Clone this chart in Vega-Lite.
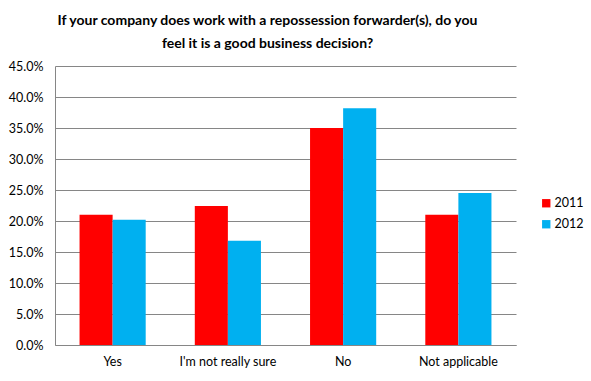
{
  "$schema": "https://vega.github.io/schema/vega-lite/v6.json",
  "width": 461,
  "height": 279,
  "autosize": {"type": "none"},
  "padding": {"left": 55, "top": 66, "right": 75, "bottom": 36},
  "background": "white",
  "title": {
    "text": ["If your company does work with a repossession forwarder(s), do you", "feel it is a good business decision?"],
    "font": "Lato",
    "fontSize": 14,
    "fontWeight": "bold",
    "color": "#000000",
    "anchor": "middle",
    "dx": -18,
    "offset": 9,
    "lineHeight": 23
  },
  "data": {
    "values": [
      {"answer": "Yes", "year": "2011", "pct": 0.210},
      {"answer": "Yes", "year": "2012", "pct": 0.202},
      {"answer": "I'm not really sure", "year": "2011", "pct": 0.224},
      {"answer": "I'm not really sure", "year": "2012", "pct": 0.168},
      {"answer": "No", "year": "2011", "pct": 0.350},
      {"answer": "No", "year": "2012", "pct": 0.382},
      {"answer": "Not applicable", "year": "2011", "pct": 0.210},
      {"answer": "Not applicable", "year": "2012", "pct": 0.245}
    ]
  },
  "mark": {"type": "bar"},
  "encoding": {
    "x": {
      "field": "answer",
      "type": "nominal",
      "sort": ["Yes", "I'm not really sure", "No", "Not applicable"],
      "scale": {"paddingInner": 0.426, "paddingOuter": 0.213},
      "axis": {"title": null, "labelAngle": 0, "labelFont": "Lato", "labelFontSize": 12.5, "labelColor": "#000000", "ticks": false, "labelPadding": 10, "domainColor": "#868686"}
    },
    "xOffset": {"field": "year", "type": "nominal"},
    "y": {
      "field": "pct",
      "type": "quantitative",
      "scale": {"domain": [0, 0.45], "nice": false},
      "axis": {"title": null, "format": ".1%", "values": [0, 0.05, 0.1, 0.15, 0.2, 0.25, 0.3, 0.35, 0.4, 0.45], "labelFont": "Lato", "labelFontSize": 12.5, "labelColor": "#000000", "ticks": false, "labelPadding": 12, "gridColor": "#868686", "domainColor": "#868686"}
    },
    "color": {
      "field": "year",
      "type": "nominal",
      "scale": {"domain": ["2011", "2012"], "range": ["#FF0000", "#00B0F0"]},
      "legend": {"title": null, "orient": "none", "legendX": 485, "legendY": 131, "symbolType": "square", "symbolSize": 70, "symbolStrokeWidth": 0, "labelFont": "Lato", "labelFontSize": 12.5, "labelColor": "#000000", "rowPadding": 8, "labelOffset": 2}
    }
  },
  "config": {
    "view": {"stroke": null},
    "axis": {"gridWidth": 1, "domainWidth": 1}
  }
}
